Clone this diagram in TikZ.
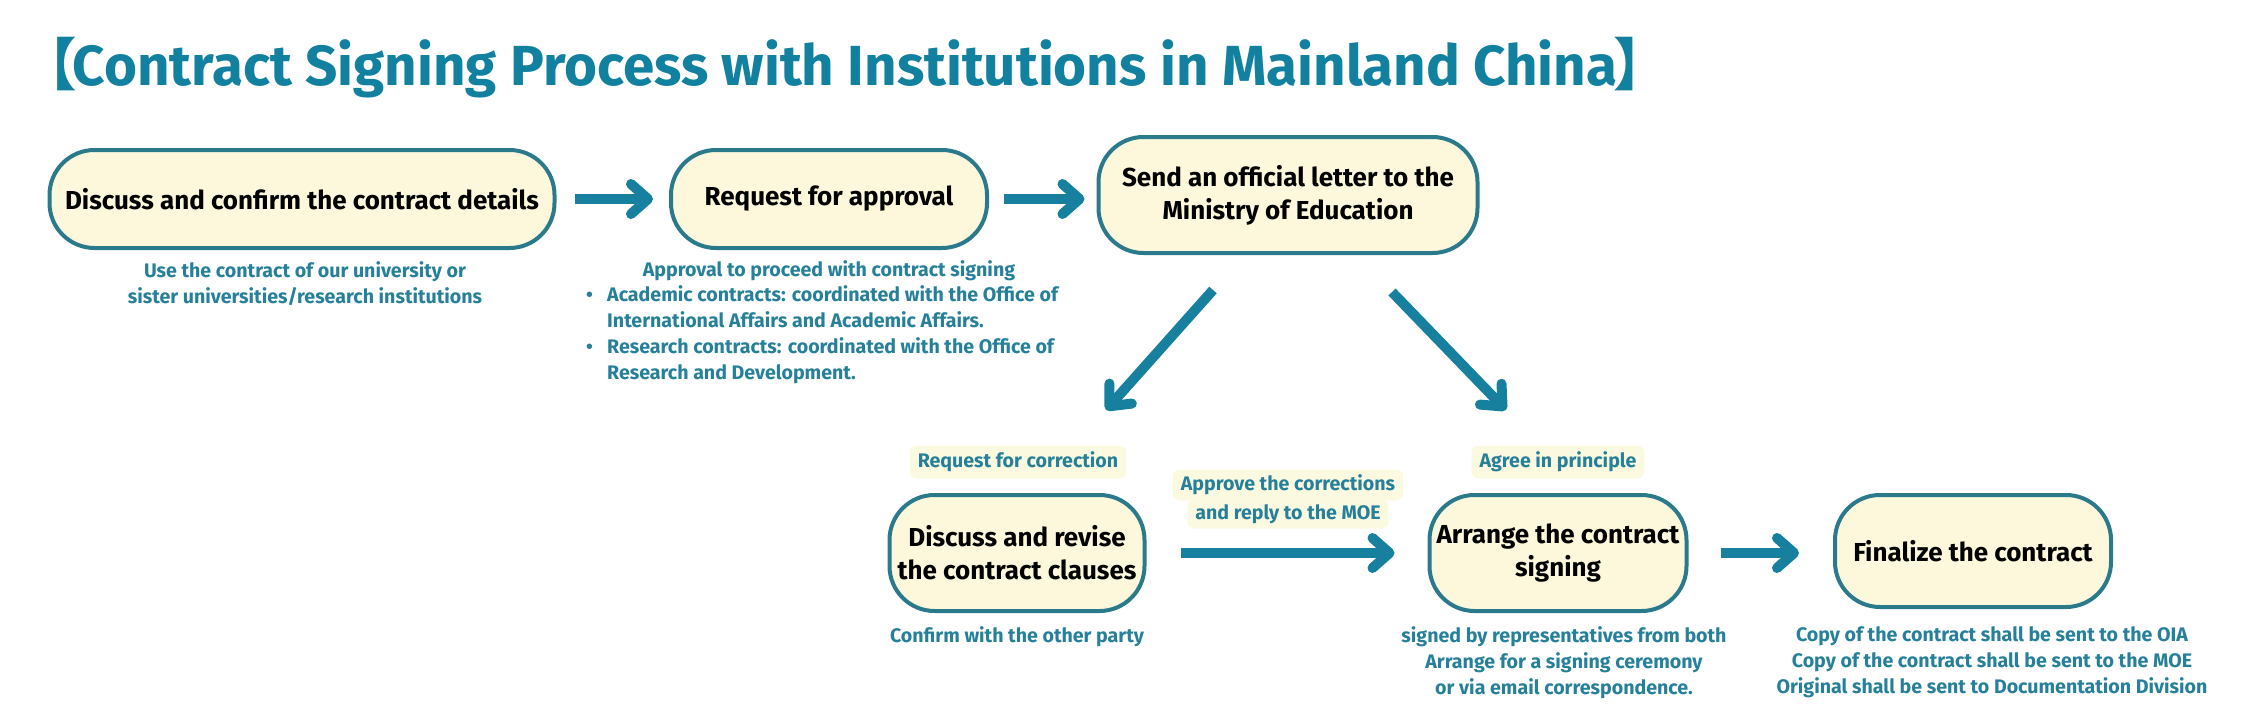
\documentclass[tikz,border=0pt]{standalone}
\usepackage{fontspec}
\setmainfont{Fira Sans}
\newfontfamily\cjk{Noto Sans CJK SC}
\usetikzlibrary{arrows.meta}
\definecolor{titleteal}{HTML}{12809F}
\definecolor{arrowteal}{HTML}{17809F}
\definecolor{boxline}{HTML}{2A7A8C}
\definecolor{boxfill}{HTML}{FDF8DC}
\definecolor{subteal}{HTML}{26809A}
\definecolor{labfill}{HTML}{FCF9E1}
\begin{document}
\begin{tikzpicture}[x=1pt,y=-1pt,
  stepbox/.style={draw=boxline, line width=4pt, fill=boxfill, rounded corners=45pt,
    align=center, text=black, inner sep=0pt,
    font=\fontsize{26}{33}\selectfont\bfseries},
  subtext/.style={text=subteal, align=center, inner sep=0pt,
    font=\fontsize{19.6}{26}\selectfont\bfseries},
  lab/.style={fill=labfill, rounded corners=7pt, text=subteal, inner xsep=8pt, inner ysep=0pt,
    minimum height=33pt, font=\fontsize{19.6}{26}\selectfont\bfseries},
  arr/.style={draw=arrowteal, line width=10pt,
    -{Straight Barb[length=17pt,width=30pt,round]}}
]
\useasboundingbox (0,0) rectangle (2268,723);

% title
\node[anchor=west, text=titleteal, inner sep=0pt,
  font=\fontsize{56.5}{64}\selectfont\bfseries] (title) at (20,68)
  {{\cjk 【}\kern-4pt Contract Signing Process with Institutions in Mainland China\kern-4pt{\cjk 】}};

% top row boxes
\node[stepbox, minimum width=505pt, minimum height=98pt] (b1) at (302,199)
  {Discuss and confirm the contract details};
\node[stepbox, minimum width=316pt, minimum height=98pt] (b2) at (829,199)
  {Request for approval};
\node[stepbox, minimum width=379pt, minimum height=116pt] (b3) at (1288,195)
  {Send an official letter to the\\Ministry of Education};

% bottom row boxes
\node[stepbox, minimum width=255pt, minimum height=116pt] (b4) at (1017,553)
  {Discuss and revise\\the contract clauses};
\node[stepbox, minimum width=257pt, minimum height=116pt] (b5) at (1558,553)
  {Arrange the contract\\signing};
\node[stepbox, minimum width=276pt, minimum height=112pt] (b6) at (1973,551)
  {Finalize the contract};

% sub texts
\node[subtext] (s1) at (305,284)
  {Use the contract of our university or\\sister universities/research institutions};
\node[subtext] (s2) at (829,271) {Approval to proceed with contract signing};
\node[subtext, anchor=north west, align=left] (s2list) at (586,285)
  {\makebox[21pt][l]{•}Academic contracts: coordinated with the Office of\\
   \hspace*{21pt}International Affairs and Academic Affairs.\\
   \makebox[21pt][l]{•}Research contracts: coordinated with the Office of\\
   \hspace*{21pt}Research and Development.};
\node[subtext] (s4) at (1017,637) {Confirm with the other party};
\node[subtext] (s5) at (1564,663)
  {signed by representatives from both\\Arrange for a signing ceremony\\or via email correspondence.};
\node[subtext] (s6) at (1992,662)
  {Copy of the contract shall be sent to the OIA\\Copy of the contract shall be sent to the MOE\\Original shall be sent to Documentation Division};

% labels
\node[lab] (l1) at (1018,462) {Request for correction};
\node[lab] (l2) at (1558,462) {Agree in principle};
\node[lab, minimum height=31pt] (l3a) at (1288,485) {Approve the corrections};
\node[lab, minimum height=29pt] (l3b) at (1288,514) {and reply to the MOE};

% arrows
\draw[arr, shorten <=18pt, shorten >=16pt] (b1.east) -- (b2.west);
\draw[arr, shorten <=15pt, shorten >=12pt] (b2.east) -- (b2.east -| b3.west);
\coordinate (d1a) at (1213,290);
\coordinate (d1b) at (1106,410);
\coordinate (d2a) at (1392,292);
\coordinate (d2b) at (1506,410);
\draw[arr] (d1a) -- (d1b);
\draw[arr] (d2a) -- (d2b);
\draw[arr, shorten <=34pt, shorten >=33pt] (b4.east) -- (b5.west);
\draw[arr, shorten <=32pt, shorten >=34pt] (b5.east) -- (b5.east -| b6.west);
\end{tikzpicture}
\end{document}
